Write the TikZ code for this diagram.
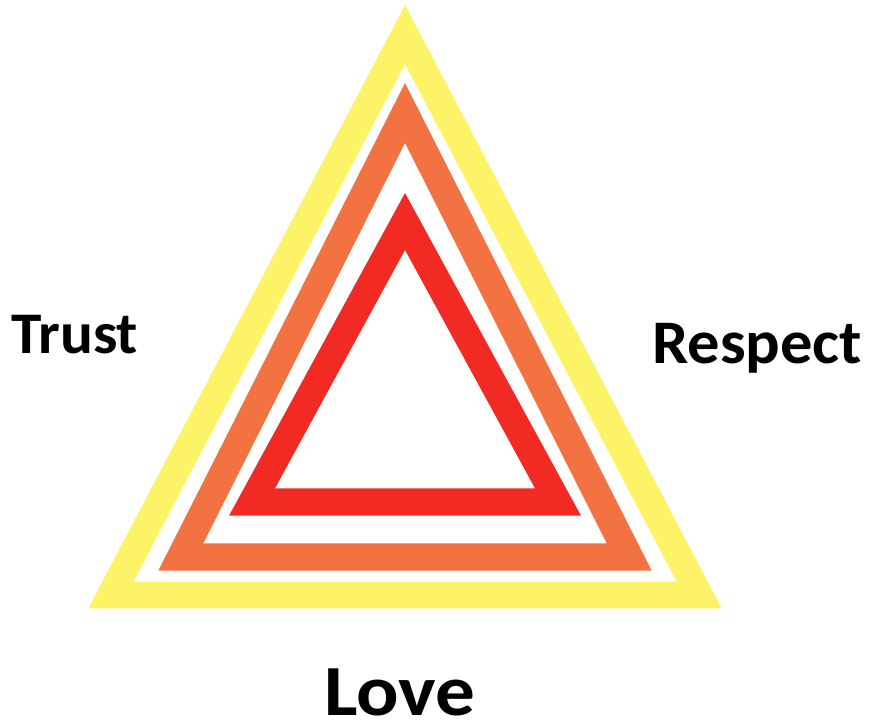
\documentclass[tikz,border=0pt]{standalone}
\usepackage{fontspec}
\usepackage{graphicx}
\setmainfont{Carlito}
\definecolor{cyellow}{RGB}{252,244,102}
\definecolor{corange}{RGB}{243,114,66}
\definecolor{cred}{RGB}{241,42,36}
\begin{document}
\begin{tikzpicture}[x=1pt,y=-1pt,
  band/.style={even odd rule,draw=none},
  lbl/.style={inner sep=0pt,anchor=base west}]
\useasboundingbox (0,0) rectangle (870,720);
% yellow band
\fill[band,cyellow] (405,5) -- (721.7,608.3) -- (88.3,608.3) -- cycle
  (405,64) -- (676.7,581.7) -- (133.3,581.7) -- cycle;
% orange band
\fill[band,corange] (405,83) -- (651.7,570.7) -- (158.3,570.7) -- cycle
  (405,143) -- (606.7,543.3) -- (203.3,543.3) -- cycle;
% red band
\fill[band,cred] (405,193) -- (581,515.7) -- (229,515.7) -- cycle
  (405,250) -- (535,488.3) -- (275,488.3) -- cycle;
\node[lbl] (trust) at (11,353.5) {\scalebox{1.04}[1]{\bfseries\fontsize{59}{68}\selectfont Trust}};
\node[lbl] (respect) at (652,363.3) {\scalebox{1.04}[1]{\bfseries\fontsize{62}{71}\selectfont Respect}};
\node[lbl] (love) at (324,715.5) {\scalebox{1.10}[1]{\bfseries\fontsize{72}{82}\selectfont Love}};
\end{tikzpicture}
\end{document}
